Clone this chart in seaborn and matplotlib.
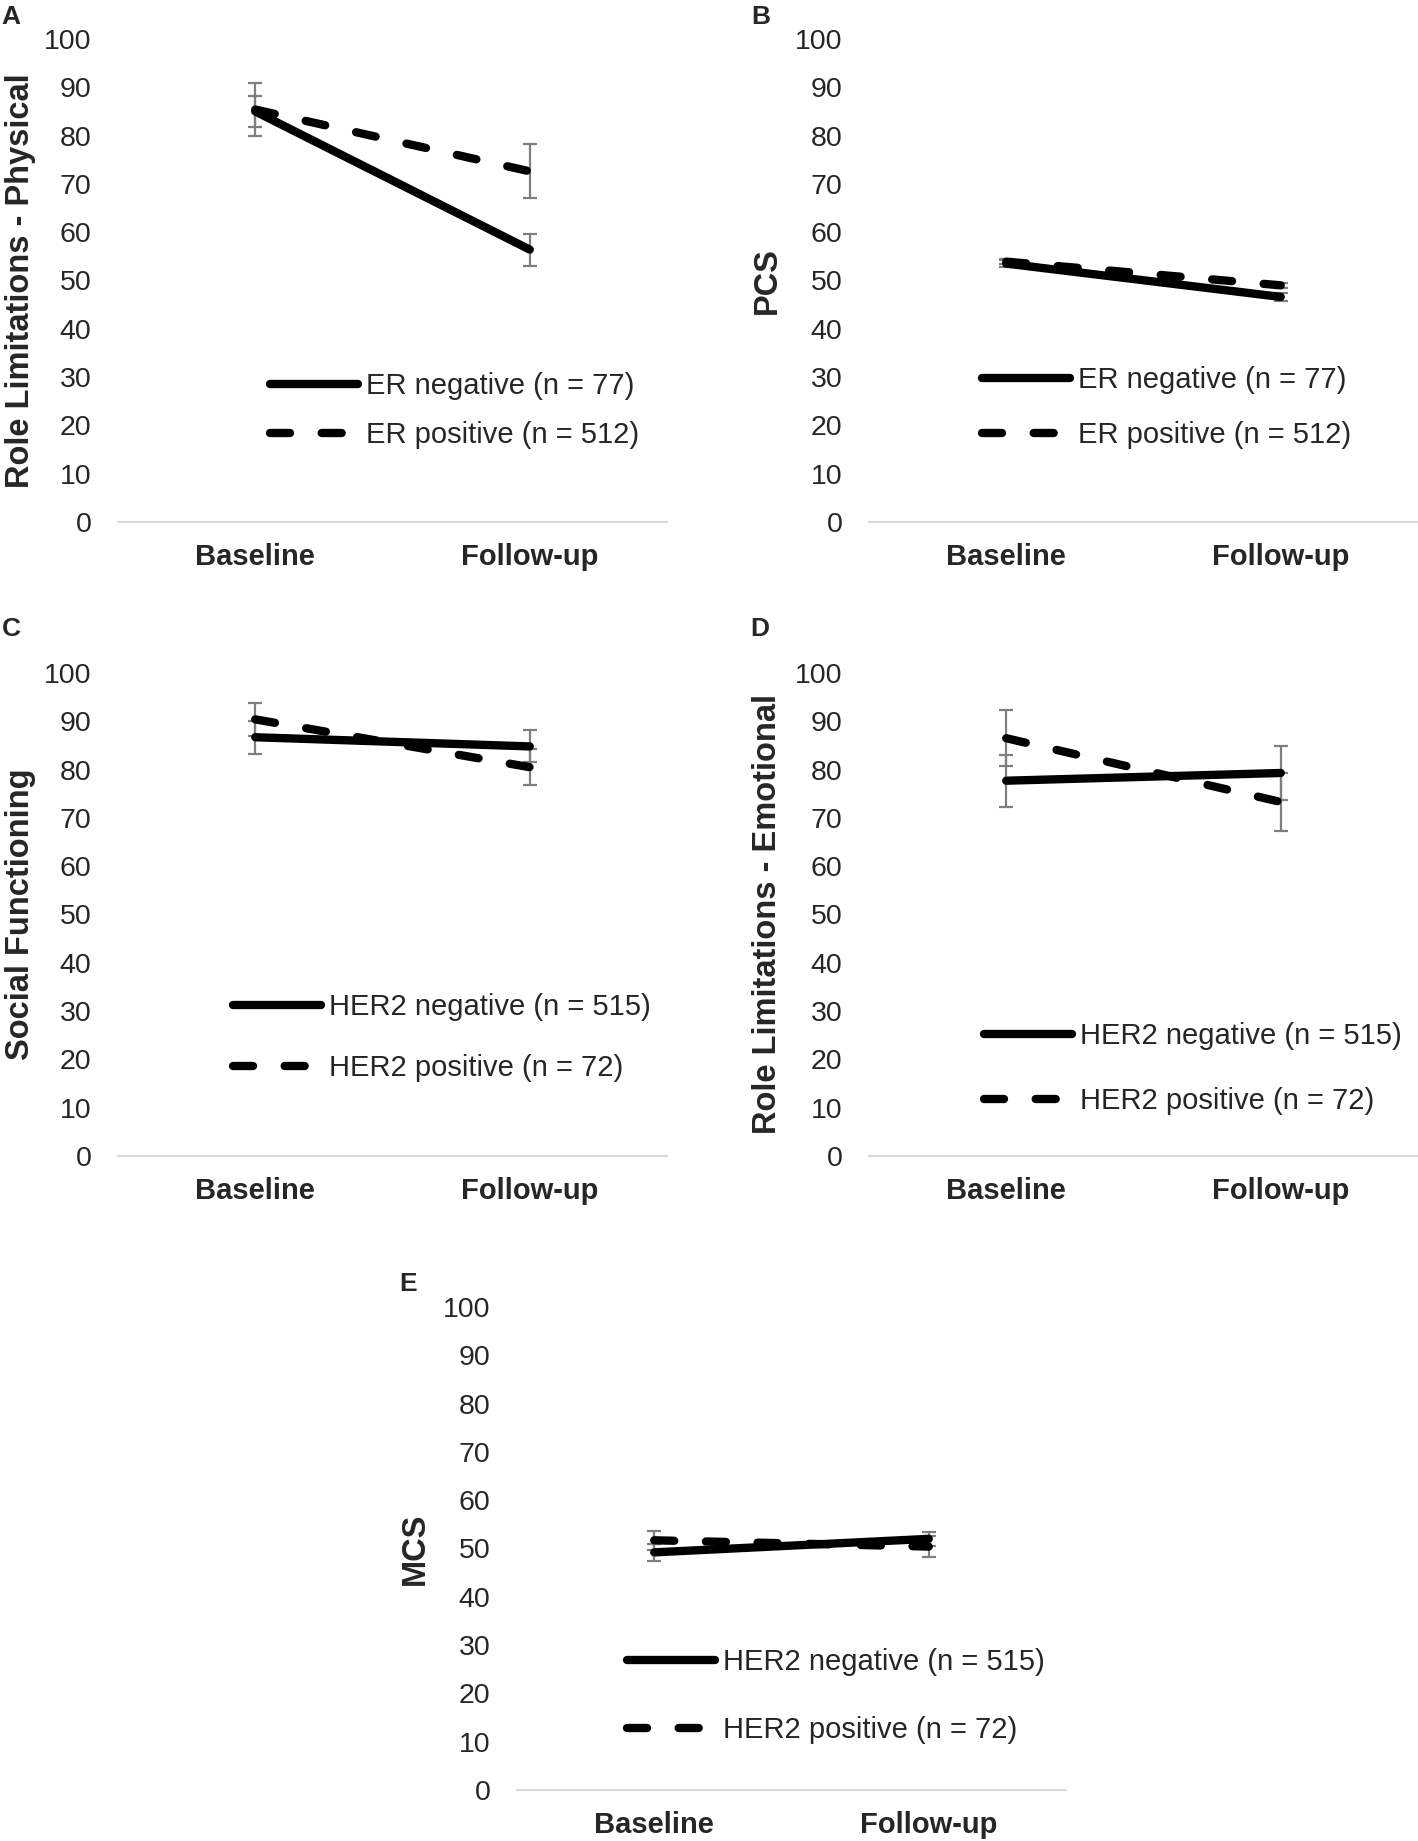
import matplotlib
matplotlib.use("Agg")
import pandas as pd
import seaborn as sns
from matplotlib import pyplot as plt
from matplotlib.lines import Line2D

time_points = ["Baseline", "Follow-up"]

er_labels = ["ER negative (n = 77)", "ER positive (n = 512)"]
her2_labels = ["HER2 negative (n = 515)", "HER2 positive (n = 72)"]

# A - role limitations physical by ER status
rp_er_neg = [85.0, 56.4]
rp_er_neg_err = [3.3, 3.3]
rp_er_pos = [85.4, 72.6]
rp_er_pos_err = [5.5, 5.6]

# B - PCS by ER status
pcs_er_neg = [53.5, 46.6]
pcs_er_neg_err = [0.8, 0.9]
pcs_er_pos = [53.9, 49.0]
pcs_er_pos_err = [0.5, 0.5]

# C - social functioning by HER2 status
sf_her2_neg = [86.7, 84.8]
sf_her2_neg_err = [3.4, 3.3]
sf_her2_pos = [90.4, 80.5]
sf_her2_pos_err = [3.4, 3.7]

# D - role limitations emotional by HER2 status
re_her2_neg = [77.7, 79.3]
re_her2_neg_err = [5.4, 5.6]
re_her2_pos = [86.5, 73.3]
re_her2_pos_err = [5.8, 6.0]

# E - MCS by HER2 status
mcs_her2_neg = [49.2, 52.0]
mcs_her2_neg_err = [1.8, 1.5]
mcs_her2_pos = [51.7, 50.4]
mcs_her2_pos_err = [2.0, 2.2]

W, H = 1418, 1841
FS = 21
FS_PX = FS * 100 / 72
LW = 6
DASH = (2.4, 3.8)

sns.set_style("white")
plt.rcParams["font.family"] = ["Liberation Sans", "DejaVu Sans"]

fig = plt.figure(figsize=(W / 100, H / 100), dpi=100)


def add_axes(left, top, width=549, height=483):
    # pixel box -> figure fraction
    return fig.add_axes([left / W, 1 - (top + height) / H, width / W, height / H])


def draw_panel(ax, letter, letter_xy, ylabel, ylabel_x, labels, neg, neg_err, pos, pos_err, leg):
    df = pd.DataFrame({
        "time": [0, 1, 0, 1],
        "score": neg + pos,
        "group": [labels[0]] * 2 + [labels[1]] * 2,
    })
    sns.lineplot(data=df, x="time", y="score", hue="group", style="group",
                 palette=["black", "black"], dashes=["", DASH],
                 linewidth=LW, legend=False, ax=ax, zorder=3,
                 dash_capstyle="round", solid_capstyle="round")
    for m, e in [(neg, neg_err), (pos, pos_err)]:
        ax.errorbar([0, 1], m, yerr=e, fmt="none", ecolor="#7f7f7f",
                    elinewidth=1.6, capsize=5, capthick=1.6, zorder=2)

    ax.set_xlim(-0.5, 1.5)
    ax.set_ylim(0, 100)
    ax.set_yticks(range(0, 101, 10))
    ax.set_xticks([0, 1], time_points, fontweight="bold")
    ax.tick_params(axis="y", length=0, pad=19, labelsize=20.5)
    ax.tick_params(axis="x", length=0, pad=15, labelsize=FS)
    ax.set_xlabel("")
    ax.set_ylabel(ylabel, fontweight="bold", fontsize=23.5)
    ax.yaxis.set_label_coords(ylabel_x, 0.5)
    for s in ["top", "right", "left"]:
        ax.spines[s].set_visible(False)
    ax.spines["bottom"].set_color("#d9d9d9")
    ax.spines["bottom"].set_linewidth(1.5)

    handles = [Line2D([], [], color="black", lw=LW, linestyle="-", solid_capstyle="round"),
               Line2D([], [], color="black", lw=LW, linestyle=(0, DASH), dash_capstyle="round")]
    lx, y1, y2 = leg
    spacing = ((y2 - y1) - 1.15 * FS_PX) / FS_PX
    ax.legend(handles, labels, loc="center left",
              bbox_to_anchor=(lx / W, 1 - (y1 + y2) / 2 / H),
              bbox_transform=fig.transFigure, frameon=False, fontsize=FS,
              handlelength=3, handletextpad=0.3, labelspacing=spacing,
              borderpad=0, borderaxespad=0)

    fig.text(letter_xy[0] / W, 1 - letter_xy[1] / H, letter,
             fontweight="bold", fontsize=19, ha="center", va="center")


ax_a = add_axes(118, 39)
ax_b = add_axes(869, 39)
ax_c = add_axes(118, 673)
ax_d = add_axes(869, 673)
ax_e = add_axes(517, 1307)

draw_panel(ax_a, "A", (11, 17), "Role Limitations - Physical", -0.149, er_labels,
           rp_er_neg, rp_er_neg_err, rp_er_pos, rp_er_pos_err, (270, 383, 438))
draw_panel(ax_b, "B", (761, 17), "PCS", -0.156, er_labels,
           pcs_er_neg, pcs_er_neg_err, pcs_er_pos, pcs_er_pos_err, (982, 377, 438))
draw_panel(ax_c, "C", (11, 629), "Social Functioning", -0.149, her2_labels,
           sf_her2_neg, sf_her2_neg_err, sf_her2_pos, sf_her2_pos_err, (233, 1004, 1071))
draw_panel(ax_d, "D", (760, 629), "Role Limitations - Emotional", -0.156, her2_labels,
           re_her2_neg, re_her2_neg_err, re_her2_pos, re_her2_pos_err, (984, 1033, 1104))
draw_panel(ax_e, "E", (408, 1284), "MCS", -0.156, her2_labels,
           mcs_her2_neg, mcs_her2_neg_err, mcs_her2_pos, mcs_her2_pos_err, (627, 1659, 1733))

fig.savefig("out.png", dpi=100)
